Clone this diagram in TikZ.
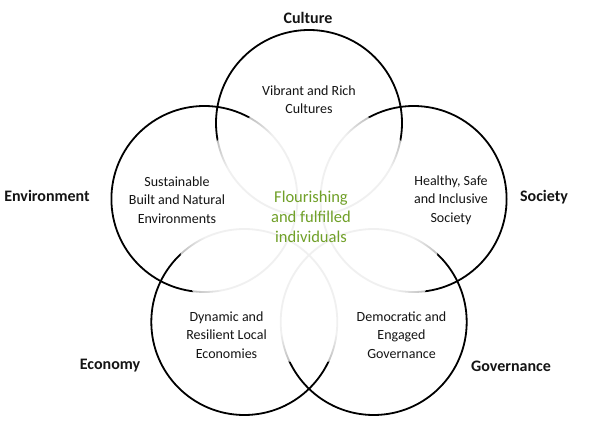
\documentclass[tikz,border=0pt]{standalone}
\usepackage{fontspec}
\setmainfont{Carlito}
\usepackage{tikz}
\usetikzlibrary{fadings}
\usepackage{xcolor}
\definecolor{ringline}{RGB}{0,0,0}
\definecolor{figtext}{RGB}{20,20,20}
\definecolor{figgreen}{RGB}{112,160,40}

% fading for the middle of the rings
\pgfdeclareradialshading{midshade}{\pgfpointorigin}{%
  color(0bp)=(white!94!black); color(20bp)=(white!94!black);
  color(44bp)=(black); color(50bp)=(black)}
\pgfdeclarefading{midfade}{\pgfuseshading{midshade}}

\begin{document}
\begin{tikzpicture}[x=1pt,y=1pt,font=\fontsize{14}{18.3}\selectfont]

% canvas
\useasboundingbox (0,0) rectangle (592,426);
\fill[white] (0,0) rectangle (592,426);

\tikzset{
  ring/.style={
    circle,
    draw=ringline,
    line width=1.8pt,
    minimum size=186pt,
    inner sep=0pt
  },
  area/.style={
    text=figtext,
    align=center,
    inner sep=0pt
  },
  theme/.style={
    text=figtext,
    font=\bfseries\fontsize{16}{18}\selectfont,
    inner sep=0pt
  },
  core/.style={
    text=figgreen,
    align=center,
    font=\fontsize{16.5}{20}\selectfont,
    inner sep=0pt
  }
}

% rings — regular pentagon round (309,193), distance 110
\node[ring] (rculture) at (309,303) {};
\node[ring] (renv)     at (204.4,227) {};
\node[ring] (rsoc)     at (413.6,227) {};
\node[ring] (recon)    at (244.3,104) {};
\node[ring] (rgov)     at (373.7,104) {};

% fade the rings toward the middle
\coordinate (mid) at (309,193);
\fill[white,path fading=midfade] (mid) circle (130);

% ring texts
\node[area] (tculture) at (309,326) {Vibrant and Rich\\Cultures};
\node[area] (tenv)     at (177,226) {Sustainable\\Built and Natural\\Environments};
\node[area] (tsoc)     at (451,226) {Healthy, Safe\\and Inclusive\\Society};
\node[area] (tecon)    at (226.5,91) {Dynamic and\\Resilient Local\\Economies};
\node[area] (tgov)     at (401.5,91) {Democratic and\\Engaged\\Governance};

% centre
\node[core] (tcore) at (311,209) {Flourishing\\and fulfilled\\individuals};

% outer labels
\node[theme] (lculture) at (308,408) {Culture};
\node[theme] (lenv)     at (47,230)  {Environment};
\node[theme] (lsoc)     at (544,229) {Society};
\node[theme] (lecon)    at (110,60)  {Economy};
\node[theme] (lgov)     at (511,60)  {Governance};

\end{tikzpicture}
\end{document}
